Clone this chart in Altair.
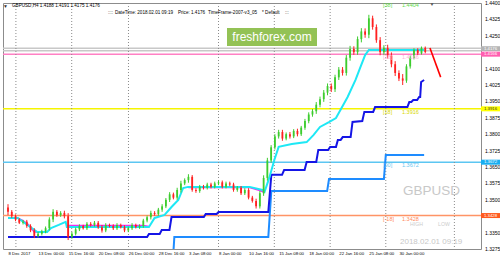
import altair as alt
import pandas as pd

FONT = "Liberation Sans"

# ---------------- data ----------------
y_ticks = [1.4400, 1.4325, 1.4250, 1.4175, 1.4100, 1.4025, 1.3950, 1.3875,
           1.3800, 1.3725, 1.3650, 1.3575, 1.3500, 1.3425, 1.3350, 1.3275]
x_tick_bars = [0, 16, 32, 48, 64, 80, 96, 112, 128, 144, 160, 176, 192, 208]
x_tick_labels = ["8 Dec 2017", "13 Dec 00:00", "15 Dec 16:00", "20 Dec 08:00",
                 "26 Dec 00:00", "28 Dec 16:00", "3 Jan 08:00", "8 Jan 00:00",
                 "10 Jan 16:00", "15 Jan 08:00", "18 Jan 00:00", "22 Jan 16:00",
                 "25 Jan 08:00", "30 Jan 00:00"]
grid_bars = [4.2, 33.9, 64.1, 112.0, 141.7, 171.4, 201.0, 237.5]

candle_bars = list(range(0, 223, 2))
first_open = 1.3465
closes = [
    1.3445, 1.3425, 1.3410, 1.3395, 1.3400, 1.3380, 1.3360, 1.3335,
    1.3345, 1.3355, 1.3370, 1.3410, 1.3445, 1.3430, 1.3440, 1.3425,
    1.3330, 1.3345, 1.3365, 1.3380, 1.3370, 1.3390, 1.3385, 1.3395,
    1.3375, 1.3360, 1.3385, 1.3380, 1.3370, 1.3385, 1.3375, 1.3360,
    1.3370, 1.3385, 1.3375, 1.3380, 1.3405, 1.3420, 1.3440, 1.3435,
    1.3455, 1.3470, 1.3500, 1.3525, 1.3510, 1.3545, 1.3575, 1.3590,
    1.3605, 1.3545, 1.3540, 1.3560, 1.3555, 1.3570, 1.3560, 1.3575,
    1.3580, 1.3560, 1.3575, 1.3570, 1.3545, 1.3555, 1.3530, 1.3545,
    1.3510, 1.3495, 1.3470, 1.3530, 1.3600, 1.3680, 1.3740, 1.3790,
    1.3810, 1.3780, 1.3800, 1.3790, 1.3815, 1.3800, 1.3830, 1.3860,
    1.3890, 1.3905, 1.3935, 1.3960, 1.3990, 1.4020, 1.4005, 1.4060,
    1.4095, 1.4080, 1.4150, 1.4190, 1.4175, 1.4235, 1.4270, 1.4255,
    1.4330, 1.4290, 1.4230, 1.4175, 1.4195, 1.4160, 1.4120, 1.4080,
    1.4055, 1.4045, 1.4110, 1.4150, 1.4185, 1.4170, 1.4195, 1.4176,
]
wick_pips = [
    15, 8, 8, 6, 8, 8, 8, 10,
    8, 8, 8, 10, 12, 8, 8, 10,
    14, 8, 8, 8, 6, 8, 8, 8,
    8, 10, 8, 6, 8, 8, 6, 8,
    8, 8, 6, 8, 8, 8, 10, 8,
    8, 10, 8, 10, 8, 10, 12, 8,
    12, 8, 8, 8, 8, 8, 8, 8,
    8, 8, 8, 8, 8, 8, 8, 8,
    8, 8, 10, 10, 12, 12, 10, 10,
    10, 10, 8, 10, 8, 10, 8, 10,
    10, 10, 12, 12, 12, 12, 12, 12,
    12, 12, 12, 14, 12, 12, 15, 14,
    16, 12, 12, 14, 12, 14, 14, 14,
    12, 20, 10, 10, 8, 8, 6, 6,
]

cyan_bars = [0, 5.2, 15.6, 20.8, 22.9, 27, 30.7, 31.3, 75, 78, 83.3, 87, 90.6,
             93.2, 95.8, 128.6, 135.4, 136.5, 139, 141.7, 144, 151, 158.9, 162.5,
             166, 171, 174.5, 180.7, 184.9, 187.5, 190, 192, 221.4]
cyan_px = [1.3417, 1.3417, 1.3353, 1.3353, 1.3371, 1.3385, 1.3399, 1.3376, 1.3376,
           1.3417, 1.3431, 1.3467, 1.3499, 1.3554, 1.3559, 1.3559, 1.3545, 1.3536,
           1.3600, 1.3682, 1.3742, 1.3755, 1.3764, 1.3796, 1.3833, 1.3856, 1.3874,
           1.3970, 1.4048, 1.4107, 1.4162, 1.4185, 1.4185]

mag_seg = [1, 1, 1, 1, 1, 1, 2, 2, 2, 3, 3, 3, 3]
mag_bars = [0, 5.2, 8, 11, 14, 21, 31.3, 72, 75, 96, 128.6, 134, 136]
mag_px = [1.3417, 1.3417, 1.3405, 1.3385, 1.3353, 1.3353, 1.3382, 1.3382, 1.3378,
          1.3556, 1.3556, 1.3543, 1.3536]

navy_bars = [0, 74, 75, 80.7, 81.8, 85.9, 87, 104.2, 105.2, 111, 112, 138.5, 140.1,
             145.8, 146.9, 157.8, 158.9, 164, 165.1, 170.3, 171.4, 174.5, 175.5, 177,
             178.1, 182.3, 183.3, 188.5, 189.6, 194.3, 195.3, 212.5, 213.5, 214.6,
             215.6, 217.7, 218.75, 219.3, 219.8, 221.4]
navy_px = [1.3330, 1.3330, 1.3344, 1.3344, 1.3362, 1.3362, 1.3421, 1.3421, 1.3435,
           1.3435, 1.3444, 1.3444, 1.3614, 1.3614, 1.3636, 1.3636, 1.3673, 1.3673,
           1.3728, 1.3728, 1.3742, 1.3742, 1.3774, 1.3774, 1.3787, 1.3787, 1.3856,
           1.3860, 1.3902, 1.3902, 1.3924, 1.3924, 1.3947, 1.3947, 1.3956, 1.3956,
           1.3970, 1.3970, 1.4039, 1.4048]

dodger_bars = [88, 88.5, 138.5, 140.1, 169.8, 170.8, 200, 201, 221.4]
dodger_px = [1.3260, 1.3330, 1.3330, 1.3540, 1.3540, 1.3595, 1.3595, 1.3705, 1.3705]

red_bars = [224.5, 230.2]
red_px = [1.4194, 1.4061]

level_px = [1.4193, 1.4182, 1.4166, 1.3916, 1.3672, 1.3428]
level_col = ["#c8c8c8", "#c8c8c8", "#ff80c4", "#f5f500", "#5cc6f2", "#ff9466"]

box_px = [1.4191, 1.4166, 1.3916, 1.3672, 1.3428]
box_txt = ["1.4176", "1.4166", "1.3916", "1.3672", "1.3428"]
box_fill = ["#b4b4b4", "#ff5fb0", "#ffff00", "#19aef0", "#ff5a1e"]
box_tcol = ["#ffffff", "#ffffff", "#333333", "#ffffff", "#ffffff"]

fib_px = [1.4404, 1.4166, 1.3916, 1.3672, 1.3428]
fib_tag = ["[38]", "[28]", "[18]", "[00]", "[-18]"]
fib_val = ["1.4404", "1.4166", "1.3916", "1.3672", "1.3428"]
fib_col = ["#5fd94a", "#ffb0d8", "#d8d800", "#6cc5ef", "#ff8a5c"]

# ---------------- tables ----------------
opens = [first_open] + closes[:-1]
cdf = pd.DataFrame({"bar": candle_bars, "open": opens, "close": closes, "w": wick_pips})
cdf["high"] = cdf[["open", "close"]].max(axis=1) + cdf["w"] / 10000
cdf["low"] = cdf[["open", "close"]].min(axis=1) - cdf["w"] / 10000

# axis labels hidden behind the coloured price boxes are not shown
shown_y = [t for t in y_ticks if all(abs(t - b) > 0.0015 for b in box_px)]

W, H = 478, 246
xs = alt.Scale(domain=[0, 249], nice=False, zero=False)
ys = alt.Scale(domain=[1.3275, 1.4400], nice=False, zero=False)

X = alt.X("bar:Q", scale=xs, axis=alt.Axis(
    values=x_tick_bars, labels=False, tickSize=2, grid=False, title=None,
    domainColor="#000", tickColor="#000"))
Y = alt.Y("price:Q", scale=ys, axis=alt.Axis(
    orient="right", values=y_ticks, labels=False, tickSize=2, grid=False,
    title=None, domainColor="#000", tickColor="#000"))

updown = alt.condition("datum.close >= datum.open", alt.value("#3dcc2e"), alt.value("#ff2020"))

grid = alt.Chart(pd.DataFrame({"bar": grid_bars})).mark_rule(
    color="#8a8a8a", strokeDash=[1, 2], strokeWidth=1).encode(
    x=alt.X("bar:Q", scale=xs, axis=None))

levels = alt.Chart(pd.DataFrame({"price": level_px, "c": level_col})).mark_rule(
    strokeWidth=1.5).encode(y=Y, color=alt.Color("c:N", scale=None))

wicks = alt.Chart(cdf).mark_rule(strokeWidth=1).encode(
    x=X, y=alt.Y("low:Q", scale=ys, axis=None), y2="high:Q", color=updown)
bodies = alt.Chart(cdf).mark_bar(size=1.8).encode(
    x=alt.X("bar:Q", scale=xs, axis=None), y=alt.Y("open:Q", scale=ys, axis=None),
    y2="close:Q", color=updown)


def line(bars, prices, color, width, seg=None, clip=False):
    d = {"bar": bars, "price": prices}
    if seg is not None:
        d["seg"] = seg
    ch = alt.Chart(pd.DataFrame(d)).mark_line(color=color, strokeWidth=width, clip=clip)
    enc = dict(x=alt.X("bar:Q", scale=xs, axis=None),
               y=alt.Y("price:Q", scale=ys, axis=None), order="bar:Q")
    if seg is not None:
        enc["detail"] = "seg:N"
    return ch.encode(**enc)


navy = line(navy_bars, navy_px, "#1515e6", 2)
dodger = line(dodger_bars, dodger_px, "#1e8cff", 2, clip=True)
cyan = line(cyan_bars, cyan_px, "#1ee8f5", 2)
mag = line(mag_bars, mag_px, "#f030f0", 1.6, seg=mag_seg)
red = line(red_bars, red_px, "#ff0000", 1.6)

# tick labels (drawn through the scales)
ylab = alt.Chart(pd.DataFrame({"price": shown_y})).mark_text(
    fontSize=5, font=FONT, align="left", baseline="middle", color="#000").encode(
    x=alt.value(W + 4), y=alt.Y("price:Q", scale=ys, axis=None),
    text=alt.Text("price:Q", format=".4f"))
xlab = alt.Chart(pd.DataFrame({"bar": x_tick_bars, "t": x_tick_labels})).mark_text(
    fontSize=4.3, font=FONT, align="left", baseline="top", color="#000", dx=0.5).encode(
    x=alt.X("bar:Q", scale=xs, axis=None), y=alt.value(H + 3), text="t:N")

boxes_df = pd.DataFrame({"price": box_px, "t": box_txt, "f": box_fill, "tc": box_tcol})
boxes = alt.Chart(boxes_df).mark_tick(orient="horizontal", size=19, thickness=5, opacity=1).encode(
    x=alt.value(W + 9.5), y=alt.Y("price:Q", scale=ys, axis=None),
    color=alt.Color("f:N", scale=None))
box_text = alt.Chart(boxes_df).mark_text(fontSize=4.3, font=FONT, align="center",
                                         baseline="middle").encode(
    x=alt.value(W + 9.5), y=alt.Y("price:Q", scale=ys, axis=None), text="t:N",
    color=alt.Color("tc:N", scale=None))

fib_df = pd.DataFrame({"price": fib_px, "tag": fib_tag, "val": fib_val, "c": fib_col})
fib_tags = alt.Chart(fib_df).mark_text(fontSize=5.5, font=FONT, align="left",
                                       baseline="top", dy=1).encode(
    x=alt.value(380), y=alt.Y("price:Q", scale=ys, axis=None), text="tag:N",
    color=alt.Color("c:N", scale=None))
fib_vals = alt.Chart(fib_df).mark_text(fontSize=5.5, font=FONT, align="left",
                                       baseline="top", dy=1).encode(
    x=alt.value(399), y=alt.Y("price:Q", scale=ys, axis=None), text="val:N",
    color=alt.Color("c:N", scale=None))

one = pd.DataFrame({"k": [0]})


def label(text, px, py, size, color, weight="normal", align="left"):
    return alt.Chart(one).mark_text(text=text, fontSize=size, font=FONT, color=color,
                                    align=align, baseline="middle", fontWeight=weight).encode(
        x=alt.value(px - 3), y=alt.value(py - 3))


brand_box = alt.Chart(one).mark_rect(color="#93c255").encode(
    x=alt.value(224), x2=alt.value(314), y=alt.value(25), y2=alt.value(43))

texts = [
    label("\u25bc", 5.5, 5.5, 5, "#333333", align="center"),
    label("GBPUSD,H4  1.4188 1.4191 1.4175 1.4176", 12, 5.5, 4.6, "#000000"),
    label("::::", 108, 13, 4.6, "#000000"),
    label("DateTime: 2018.02.01 09:19", 115, 13, 4.6, "#000000"),
    label("Price: 1.4176", 178, 13, 4.6, "#000000"),
    label("TimeFrame-2007-v3_05", 208, 13, 4.6, "#000000"),
    label("* Default", 262, 13, 4.6, "#000000"),
    label(":::", 285, 13, 4.6, "#000000"),
    label("\u25bc", 432, 4, 5, "#555555", align="center"),
    label("freshforex.com", 272, 37, 12, "#ffffff", align="center"),
    label("GBPUSD", 403, 191, 13.5, "#c8c8c8"),
    label("HIGH", 410, 224, 5.2, "#cccccc"),
    label("LOW", 438, 224, 5.2, "#cccccc"),
    label("2018.02.01 09:19", 400, 242, 8, "#c8c8c8"),
]

chart = alt.layer(
    levels, grid, dodger, navy, mag, cyan, wicks, bodies, red,
    fib_tags, fib_vals, ylab, xlab, boxes, box_text, brand_box, *texts
).properties(
    width=W, height=H,
    padding={"left": 3, "top": 3, "right": 19, "bottom": 12},
    autosize=alt.AutoSizeParams(type="none"),
    background="#ffffff",
).configure_view(stroke="#8c8c8c", strokeWidth=1)

chart.save("out.html", embed_options={"renderer": "svg", "actions": False})
